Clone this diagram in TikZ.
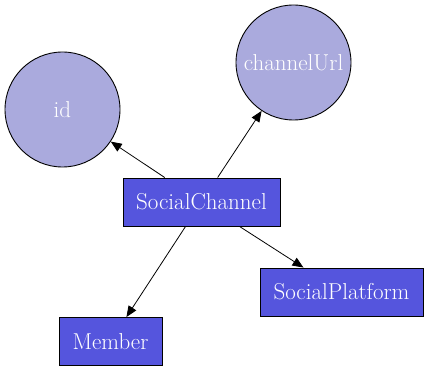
\documentclass[tikz,border=0pt]{standalone}
\usetikzlibrary{arrows.meta}

\definecolor{attrfill}{RGB}{170,170,221}
\definecolor{entfill}{RGB}{85,85,221}

\begin{document}
\begin{tikzpicture}[x=1pt, y=-1pt,
  attr/.style={circle, draw, line width=0.9pt, fill=attrfill, minimum size=115pt, inner sep=0pt, text=white, font=\fontsize{23}{27}\selectfont},
  entity/.style={rectangle, draw, line width=0.9pt, fill=entfill, minimum height=48pt, inner xsep=6pt, text=white, font=\fontsize{23}{27}\selectfont},
  link/.style={line width=0.8pt, -{Triangle[length=11pt, width=9pt]}}]

\useasboundingbox (0,0) rectangle (428,371);

\node [attr] (id) at (62.5,109.5) {id};
\node [attr] (url) at (293.5,62.5) {channelUrl};
\node [entity, minimum width=157pt] (chan) at (201.5,202) {SocialChannel};
\node [entity, minimum width=163pt] (plat) at (341.5,292) {SocialPlatform};
\node [entity, minimum width=103pt] (mem) at (110.5,341.5) {Member};

\draw [link] (chan) -- (id);
\draw [link] (chan) -- (url);
\draw [link] (chan) -- (mem);
\draw [link] (chan) -- (plat);
\end{tikzpicture}
\end{document}
